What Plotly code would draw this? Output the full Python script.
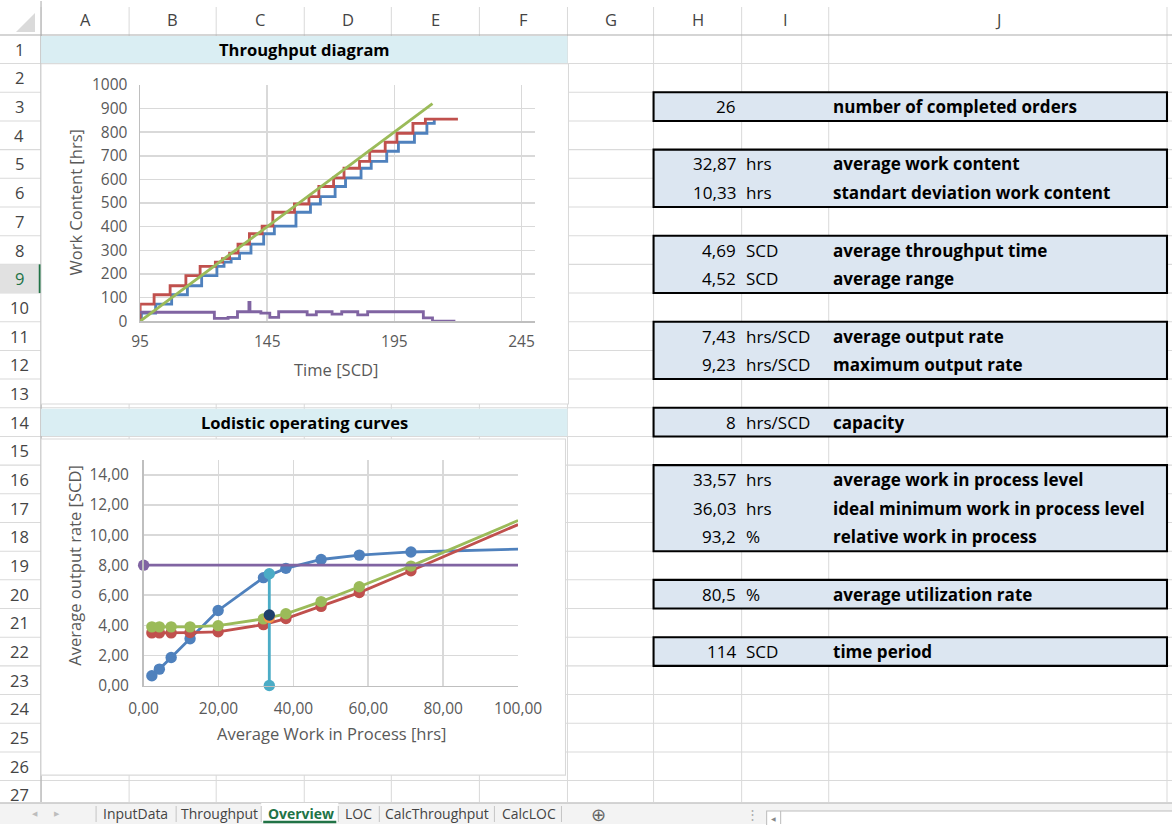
import plotly.graph_objects as go

# ---------------- data: throughput diagram ----------------
input_t = [95, 95, 100.5, 106.8, 113, 118.6, 124.6, 127.4, 130.2, 133.5, 138, 143, 147.2,
           155.7, 161.4, 165.3, 171.1, 175.2, 181.3, 185.3, 191.4, 196, 202.3, 207.2, 220]
input_v = [0, 72, 112, 150, 193, 232, 250, 265, 288, 326, 370, 402, 461,
           496, 527, 570, 606, 647, 676, 719, 757, 795, 837, 855, 855]
output_t = [95.5, 95.5, 101.1, 107.4, 113.6, 119.2, 125.2, 128, 130.8, 134.1, 138.6, 143.6, 147.8,
            156.3, 162, 165.9, 171.7, 175.8, 181.9, 185.9, 192, 196.6, 202.9, 207.8, 210.7]
output_v = [0, 34, 72, 112, 150, 193, 232, 250, 265, 288, 326, 370, 402,
            461, 496, 527, 570, 606, 647, 676, 719, 757, 795, 837, 855]
wip_t = [95, 124.2, 129.6, 133.3, 137.8, 138.2, 142.5, 146, 149.5, 160.7, 164.3, 170.5,
         174.3, 180.6, 184.5, 206.4, 210, 219]
wip_v = [38, 12, 16, 40, 79, 40, 34, 16, 40, 27, 40, 30, 40, 27, 40, 14, 0, 0]
ideal_t = [95, 210]
ideal_v = [0, 920]
tp_xticks = [95, 145, 195, 245]
tp_yticks = [0, 100, 200, 300, 400, 500, 600, 700, 800, 900, 1000]

# ---------------- data: logistic operating curves ----------------
loc_wip = [2.2, 4.2, 7.35, 12.4, 19.9, 32.0, 38.0, 47.4, 57.6, 71.4, 100]
loc_output_rate = [0.65, 1.09, 1.86, 3.11, 4.99, 7.17, 7.79, 8.38, 8.67, 8.88, 9.07]
loc_range = [3.50, 3.50, 3.50, 3.52, 3.57, 4.05, 4.45, 5.26, 6.18, 7.63, 10.7]
loc_ttime = [3.90, 3.90, 3.90, 3.90, 3.98, 4.43, 4.77, 5.58, 6.57, 7.94, 10.97]
cap_x = [0, 100]
cap_y = [8, 8]
op_wip = 33.57
op_output = 7.43
op_ttime = 4.69
op_range = 4.52
loc_xticks = [0, 20, 40, 60, 80, 100]
loc_yticks = [0, 2, 4, 6, 8, 10, 12, 14]

# ---------------- data: key figures ----------------
kf_rows = [3, 5, 6, 8, 9, 11, 12, 14, 16, 17, 18, 20, 22]
kf_values = ["26", "32,87", "10,33", "4,69", "4,52", "7,43", "9,23", "8", "33,57", "36,03", "93,2", "80,5", "114"]
kf_units = ["", "hrs", "hrs", "SCD", "SCD", "hrs/SCD", "hrs/SCD", "hrs/SCD", "hrs", "hrs", "%", "%", "SCD"]
kf_labels = ["number of completed orders", "average work content", "standart deviation work content",
             "average throughput time", "average range", "average output rate", "maximum output rate",
             "capacity", "average work in process level", "ideal minimum work in process level",
             "relative work in process", "average utilization rate", "time period"]
box_groups = [(3, 3), (5, 6), (8, 9), (11, 12), (14, 14), (16, 18), (20, 20), (22, 22)]
col_letters = ["A", "B", "C", "D", "E", "F", "G", "H", "I", "J"]
sheet_tabs = ["InputData", "Throughput", "Overview", "LOC", "CalcThroughput", "CalcLOC"]

# ---------------- geometry helpers ----------------
W, H = 1172, 825            # target picture size (design coordinates)
FW, FH = 1212, 845          # figure size in page px (the capture is scaled to W x H)
K = FW / W                  # px size factor
FONT = "Open Sans"
col_bounds = [42, 130, 217, 305, 392, 480, 568, 654, 742, 829, 1167]
HDR = 34.0
RH = 28.75


def fx(x):
    return x / W


def fy(y):
    return 1 - y / H


def row_top(n):
    return HDR + (n - 1) * RH


shapes = []
ann = []


def rect(x0, y0, x1, y1, fill, line=None, lw=0, layer="below"):
    shapes.append(dict(type="rect", xref="paper", yref="paper", x0=fx(x0), x1=fx(x1), y0=fy(y1), y1=fy(y0),
                       fillcolor=fill, line=dict(color=line or fill, width=lw * K), layer=layer))


def hline(x0, x1, y, color, w=1, layer="below"):
    shapes.append(dict(type="line", xref="paper", yref="paper", x0=fx(x0), x1=fx(x1), y0=fy(y), y1=fy(y),
                       line=dict(color=color, width=w * K), layer=layer))


def vline(x, y0, y1, color, w=1, layer="below"):
    shapes.append(dict(type="line", xref="paper", yref="paper", x0=fx(x), x1=fx(x), y0=fy(y0), y1=fy(y1),
                       line=dict(color=color, width=w * K), layer=layer))


def text(x, y, s, size=16, color="#000000", bold=False, xanchor="center", angle=0):
    ann.append(dict(xref="paper", yref="paper", x=fx(x), y=fy(y), text=("<b>%s</b>" % s) if bold else s,
                    showarrow=False, xanchor=xanchor, yanchor="middle", textangle=angle,
                    font=dict(family=FONT, size=size * K, color=color)))


GRID = "#DADADA"
n_rows = 27
for k in range(1, n_rows):
    hline(0, W, row_top(k + 1), GRID)
for cb in col_bounds:
    vline(cb, 6, 803, GRID)
hline(0, W, HDR, "#ABABAB", 1)
vline(42, 0, 803, "#ABABAB", 1)

shapes.append(dict(type="path", xref="paper", yref="paper",
                   path="M %f,%f L %f,%f L %f,%f Z" % (fx(36), fy(12), fx(36), fy(31), fx(17), fy(31)),
                   fillcolor="#DADADA", line=dict(width=0), layer="below"))

for i, c in enumerate(col_letters):
    text((col_bounds[i] + col_bounds[i + 1]) / 2, 19, c, size=16, color="#444444")
rect(0, row_top(9), 41, row_top(10), "#E1E1E1")
vline(41, row_top(9), row_top(10), "#217346", 2.5)
for r in range(1, n_rows + 1):
    text(20, row_top(r) + RH / 2, str(r), size=16, color="#217346" if r == 9 else "#444444")

rect(42, 63, 569, 404, "#FFFFFF", "#D9D9D9", 1)
rect(42, 439, 566, 776, "#FFFFFF", "#D9D9D9", 1)
rect(42, row_top(1) + 1, 568, row_top(2) - 0.5, "#DAEEF3")
rect(42, row_top(14) + 1, 568, row_top(15) - 0.5, "#DAEEF3")
text(305, row_top(1) + RH / 2, "Throughput diagram", size=16, bold=True)
text(305, row_top(14) + RH / 2, "Lodistic operating curves", size=16, bold=True)

for (r0, r1) in box_groups:
    rect(654, row_top(r0), 1167, row_top(r1 + 1), "#DCE6F1", "#000000", 2)
for r, v, u, lab in zip(kf_rows, kf_values, kf_units, kf_labels):
    yc = row_top(r) + RH / 2
    text(738, yc, v, size=16.5, xanchor="right")
    if u:
        text(744, yc, u, size=16.5, xanchor="left")
    text(831, yc, lab, size=16.5, bold=True, xanchor="left")

TC = "#595959"
text(76, 202, "Work Content [hrs]", size=16, color=TC, angle=-90)
text(337, 369, "Time [SCD]", size=16, color=TC)
text(76, 566, "Average output rate [SCD]", size=16, color=TC, angle=-90)
text(333, 734, "Average Work in Process [hrs]", size=16, color=TC)

# sheet tab bar
rect(0, 804, W, H, "#F3F3F3")
hline(0, W, 804, "#C6C6C6", 1.5)
tab_centers = [136, 220, 302, 359, 438, 530]
tab_seps = [97, 177, 262, 339, 380, 495, 562]
rect(262, 804, 339, 823, "#FFFFFF")
hline(264, 337, 823, "#217346", 2.5)
for s in tab_seps:
    vline(s, 807, 823, "#C6C6C6")
for name, cx in zip(sheet_tabs, tab_centers):
    if name == "Overview":
        text(cx, 814, name, size=13.5, color="#217346", bold=True)
    else:
        text(cx, 814, name, size=13.5, color="#444444")
text(36, 814, "◀", size=7, color="#BDBDBD")
text(58, 814, "▶", size=7, color="#BDBDBD")
text(599, 815, "⊕", size=17, color="#666666")
text(753, 815, "⋮", size=13, color="#AAAAAA")
rect(767, 812, W + 2, H + 2, "#FFFFFF", "#BDBDBD", 1)
vline(781, 812, H, "#BDBDBD", 1)
text(774, 819, "◀", size=6, color="#888888")

# ---------------- traces ----------------
fig = go.Figure()
BLUE, RED, GREEN, PURPLE = "#4F81BD", "#C0504D", "#9BBB59", "#8064A2"
CYAN, NAVY, ORANGE = "#4BACC6", "#1F3F6B", "#F79646"
LW = 2.75 * K
MS = 11 * K

fig.add_trace(go.Scatter(x=output_t, y=output_v, mode="lines", line=dict(color=BLUE, width=LW, shape="hv"),
                         xaxis="x", yaxis="y", showlegend=False))
fig.add_trace(go.Scatter(x=input_t, y=input_v, mode="lines", line=dict(color=RED, width=LW, shape="hv"),
                         xaxis="x", yaxis="y", showlegend=False))
fig.add_trace(go.Scatter(x=wip_t, y=wip_v, mode="lines", line=dict(color=PURPLE, width=LW, shape="hv"),
                         xaxis="x", yaxis="y", showlegend=False))
fig.add_trace(go.Scatter(x=ideal_t, y=ideal_v, mode="lines", line=dict(color=GREEN, width=LW),
                         xaxis="x", yaxis="y", showlegend=False))

msz = [MS] * (len(loc_wip) - 1) + [0]
for yv, col in [(loc_output_rate, BLUE), (loc_range, RED), (loc_ttime, GREEN)]:
    fig.add_trace(go.Scatter(x=loc_wip, y=yv, mode="lines+markers", line=dict(color=col, width=LW),
                             marker=dict(color=col, size=msz, opacity=1, line=dict(width=0)),
                             xaxis="x2", yaxis="y2", showlegend=False, cliponaxis=False))
fig.add_trace(go.Scatter(x=cap_x, y=cap_y, mode="lines+markers", line=dict(color=PURPLE, width=LW),
                         marker=dict(color=PURPLE, size=[MS, 0], opacity=1, line=dict(width=0)),
                         xaxis="x2", yaxis="y2", showlegend=False, cliponaxis=False))
fig.add_trace(go.Scatter(x=[op_wip, op_wip], y=[0, op_output], mode="lines+markers",
                         line=dict(color=CYAN, width=LW), marker=dict(color=CYAN, size=MS, line=dict(width=0)),
                         xaxis="x2", yaxis="y2", showlegend=False, cliponaxis=False))
fig.add_trace(go.Scatter(x=[op_wip], y=[op_range], mode="markers",
                         marker=dict(color=ORANGE, size=MS, line=dict(width=0)),
                         xaxis="x2", yaxis="y2", showlegend=False, cliponaxis=False))
fig.add_trace(go.Scatter(x=[op_wip], y=[op_ttime], mode="markers",
                         marker=dict(color=NAVY, size=MS, line=dict(width=0)),
                         xaxis="x2", yaxis="y2", showlegend=False, cliponaxis=False))

axis_common = dict(showgrid=True, gridcolor="#D9D9D9", gridwidth=1.5 * K, zeroline=False,
                   showline=True, linecolor="#BFBFBF", linewidth=1.5 * K, ticks="",
                   tickfont=dict(family=FONT, size=15 * K, color=TC), fixedrange=True)


def fmt2(v):
    return ("%.2f" % v).replace(".", ",")


fig.update_layout(
    width=FW, height=FH, autosize=False, margin=dict(l=0, r=0, t=0, b=0, pad=0),
    paper_bgcolor="#FFFFFF", plot_bgcolor="rgba(0,0,0,0)", showlegend=False, hovermode=False,
    xaxis=dict(domain=[fx(141), fx(536)], range=[95, 250.5], anchor="y",
               tickvals=tp_xticks, ticktext=[str(v) for v in tp_xticks], ticklabelstandoff=6, **axis_common),
    yaxis=dict(domain=[fy(321), fy(84)], range=[0, 1000], anchor="x",
               tickvals=tp_yticks, ticktext=[str(v) for v in tp_yticks], ticklabelstandoff=8, **axis_common),
    xaxis2=dict(domain=[fx(144.5), fx(518.6)], range=[0, 100], anchor="y2",
                tickvals=loc_xticks, ticktext=[fmt2(v) for v in loc_xticks], ticklabelstandoff=8, **axis_common),
    yaxis2=dict(domain=[fy(686.2), fy(460)], range=[0, 15], anchor="x2",
                tickvals=loc_yticks, ticktext=[fmt2(v) for v in loc_yticks], ticklabelstandoff=10, **axis_common),
    shapes=shapes, annotations=ann,
)

fig.write_html("out.html", config={"staticPlot": True, "displayModeBar": False, "responsive": False},
               post_script="document.body.style.margin='0';document.body.style.padding='0';"
                           "var gd=document.getElementById('{plot_id}');"
                           "gd.style.marginLeft='-16px';gd.style.marginTop='-11px';")
